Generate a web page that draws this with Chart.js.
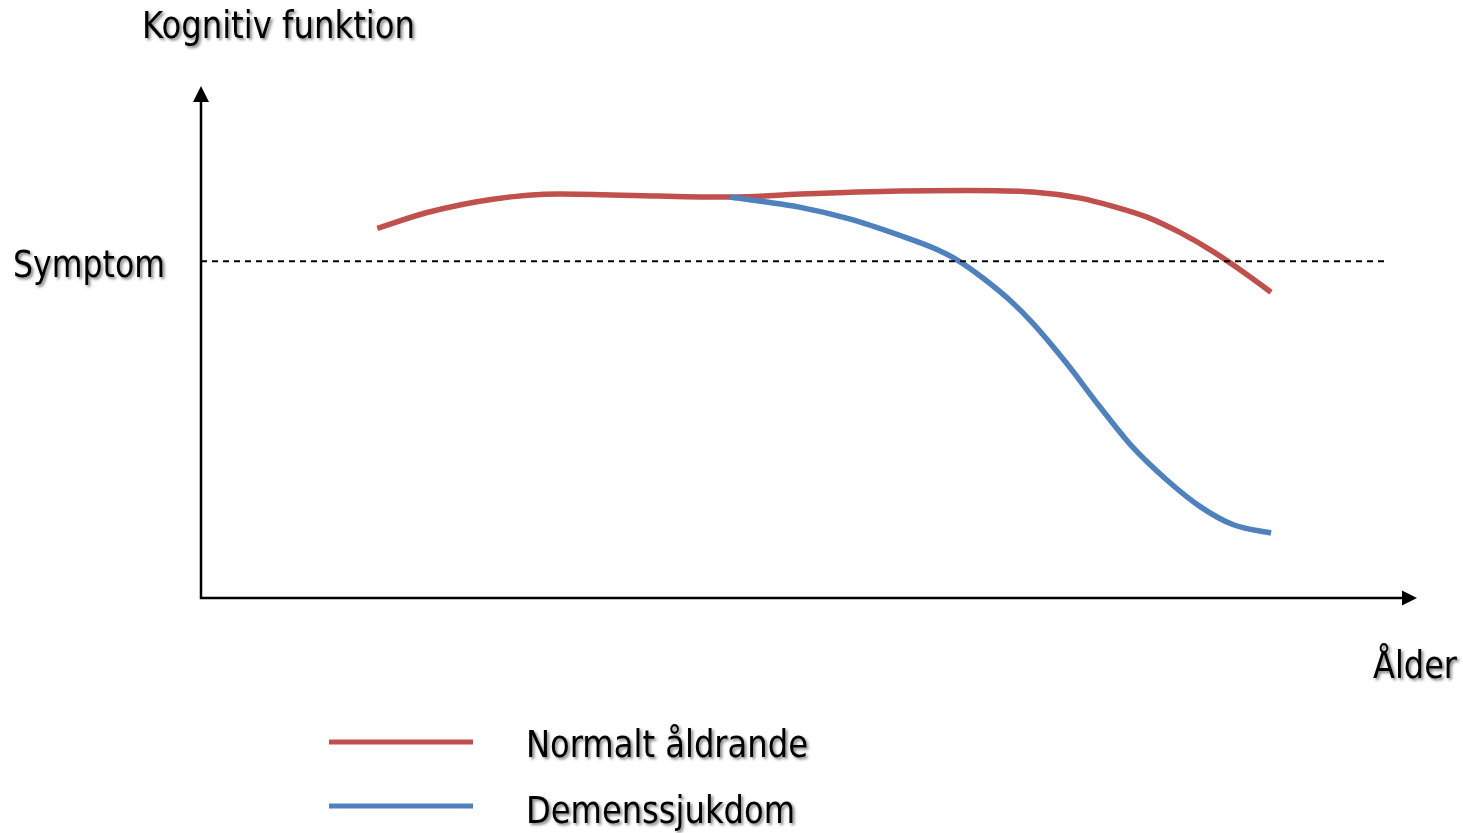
<!DOCTYPE html>
<html>
<head>
<meta charset="utf-8">
<script src="https://cdn.jsdelivr.net/npm/chart.js@4/dist/chart.umd.min.js"></script>
<style>
  html, body { margin: 0; padding: 0; background: #fff; }
  canvas { display: block; }
</style>
</head>
<body>
<canvas id="chart" width="1463" height="833"></canvas>
<script>
// Axis titles and series names
const yTitle = 'Kognitiv funktion';
const xTitle = 'Ålder';
const thresholdLabel = 'Symptom';
const seriesNames = ['Normalt åldrande', 'Demenssjukdom'];

// Age (0-100 along the x axis) and cognitive function (0-100)
const normalAge = [14.5, 18.6, 24.0, 29.5, 37.7, 43.5, 49.3, 57.5, 63.0, 68.4, 72.3, 75.0, 77.8, 80.5, 83.2, 86.0, 88.0];
const normalValues = [72.2, 75.3, 77.9, 78.9, 78.5, 78.3, 78.9, 79.5, 79.6, 79.3, 78.1, 76.5, 74.4, 71.4, 67.7, 63.2, 59.7];

const dementiaAge = [43.5, 49.3, 53.4, 57.5, 60.2, 62.2, 64.3, 66.5, 68.4, 71.2, 73.9, 76.6, 79.4, 82.2, 84.9, 88.0];
const dementiaValues = [78.3, 76.3, 74.0, 70.8, 68.4, 66.0, 62.5, 58.2, 53.7, 45.8, 37.4, 29.5, 23.1, 17.8, 14.3, 12.7];

// Symptom threshold
const thresholdAge = [0, 97.4];
const thresholdValue = 65.75;

const colors = ['#C0504D', '#4F81BD'];

function toPoints(xs, ys) {
    return xs.map((x, i) => ({ x: x, y: Array.isArray(ys) ? ys[i] : ys }));
}

// Draws text stretched to a given width, with a soft drop shadow
function drawLabel(ctx, text, x, baseline, width) {
    ctx.save();
    ctx.font = '37px "DejaVu Sans Condensed", "DejaVu Sans", sans-serif';
    const w = ctx.measureText(text).width;
    ctx.shadowColor = 'rgba(0,0,0,0.5)';
    ctx.shadowOffsetX = 2;
    ctx.shadowOffsetY = 2;
    ctx.shadowBlur = 3;
    ctx.fillStyle = '#000';
    ctx.textBaseline = 'alphabetic';
    ctx.translate(x, baseline);
    ctx.scale(width / w, 1);
    ctx.fillText(text, 0, 0);
    ctx.restore();
}

const decorations = {
    id: 'decorations',
    beforeDatasetsDraw(chart) {
        const ctx = chart.ctx;
        const xs = chart.scales.x, ys = chart.scales.y;
        const x0 = xs.getPixelForValue(0), x1 = xs.getPixelForValue(100);
        const y0 = ys.getPixelForValue(0), y1 = ys.getPixelForValue(100);

        ctx.save();
        ctx.strokeStyle = '#000';
        ctx.fillStyle = '#000';
        ctx.lineWidth = 2.5;
        ctx.beginPath();
        ctx.moveTo(x0, y1 + 12);
        ctx.lineTo(x0, y0);
        ctx.lineTo(x1 - 12, y0);
        ctx.stroke();
        // arrow heads
        ctx.beginPath();
        ctx.moveTo(x0, y1);
        ctx.lineTo(x0 - 8, y1 + 16);
        ctx.lineTo(x0 + 8, y1 + 16);
        ctx.closePath();
        ctx.fill();
        ctx.beginPath();
        ctx.moveTo(x1, y0);
        ctx.lineTo(x1 - 15, y0 - 7.5);
        ctx.lineTo(x1 - 15, y0 + 7.5);
        ctx.closePath();
        ctx.fill();
        ctx.restore();
    },
    afterDraw(chart) {
        const ctx = chart.ctx;
        drawLabel(ctx, yTitle, 142, 38, 273);
        drawLabel(ctx, thresholdLabel, 13, 277, 152);
        drawLabel(ctx, xTitle, 1373, 678, 84);

        // legend
        const rows = [742, 806];
        seriesNames.forEach((name, i) => {
            ctx.save();
            ctx.strokeStyle = colors[i];
            ctx.lineWidth = 5;
            ctx.beginPath();
            ctx.moveTo(329, rows[i]);
            ctx.lineTo(473, rows[i]);
            ctx.stroke();
            ctx.restore();
        });
        drawLabel(ctx, seriesNames[0], 526, 757, 282);
        drawLabel(ctx, seriesNames[1], 526, 823, 269);
    }
};

new Chart(document.getElementById('chart'), {
    type: 'line',
    data: {
        datasets: [
            {
                label: thresholdLabel,
                data: toPoints(thresholdAge, thresholdValue),
                borderColor: '#000',
                borderWidth: 2,
                borderDash: [6, 5],
                pointRadius: 0,
                tension: 0
            },
            {
                label: seriesNames[1],
                data: toPoints(dementiaAge, dementiaValues),
                borderColor: colors[1],
                borderWidth: 5.5,
                pointRadius: 0,
                cubicInterpolationMode: 'monotone'
            },
            {
                label: seriesNames[0],
                data: toPoints(normalAge, normalValues),
                borderColor: colors[0],
                borderWidth: 5.5,
                pointRadius: 0,
                cubicInterpolationMode: 'monotone'
            }
        ]
    },
    options: {
        responsive: false,
        animation: false,
        layout: { padding: { left: 201, right: 46, top: 86, bottom: 235 } },
        scales: {
            x: { type: 'linear', display: false, min: 0, max: 100 },
            y: { display: false, min: 0, max: 100 }
        },
        plugins: {
            legend: { display: false },
            tooltip: { enabled: false }
        }
    },
    plugins: [decorations]
});
</script>
</body>
</html>
